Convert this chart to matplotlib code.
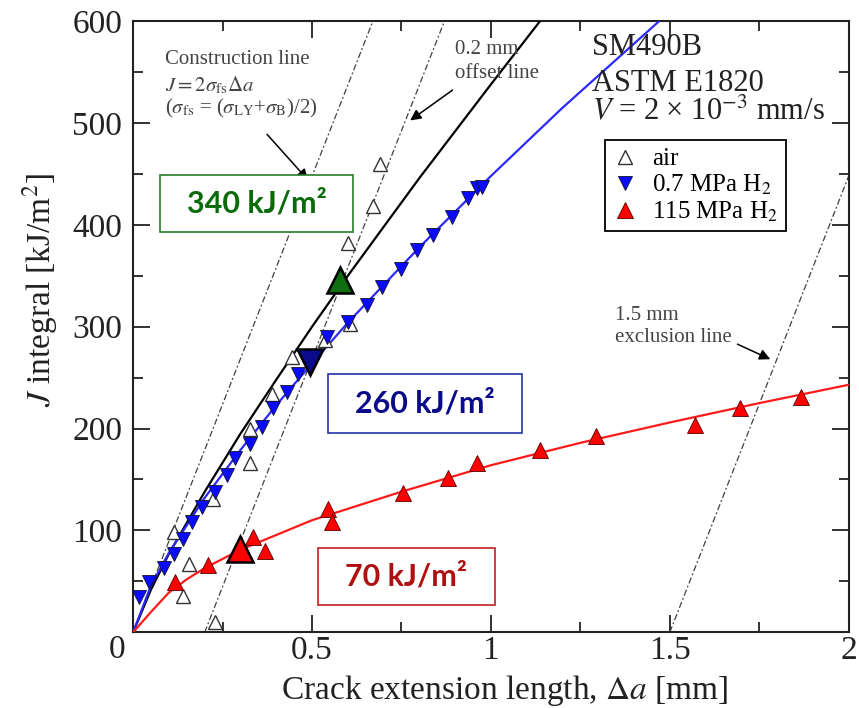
import matplotlib
matplotlib.use('Agg')

import matplotlib.pyplot as plt
from matplotlib.patches import Rectangle
from matplotlib.ticker import MultipleLocator

plt.rcParams['font.family'] = 'Liberation Serif'
plt.rcParams['mathtext.fontset'] = 'stix'

# Dados (Δa em mm, J em kJ/m²)
air_da = [0.113, 0.155, 0.14, 0.229, 0.224, 0.327, 0.327, 0.387, 0.443,
          0.536, 0.606, 0.601, 0.671, 0.69]
air_j = [98, 67, 36, 10, 131, 166, 200, 234, 270, 287, 303, 382, 419, 460]

h2_07_da = [0.015, 0.043, 0.085, 0.113, 0.14, 0.164, 0.192, 0.229, 0.262,
            0.285, 0.327, 0.359, 0.392, 0.429, 0.462, 0.541, 0.601, 0.653,
            0.695, 0.75, 0.792, 0.839, 0.89, 0.937, 0.96, 0.974]
h2_07_j = [35, 49, 63, 77, 92, 108, 123, 138, 154, 171, 185, 202, 220, 236,
           254, 290, 305, 321, 339, 357, 375, 390, 408, 426, 436, 437]

h2_115_da = [0.117, 0.21, 0.336, 0.369, 0.546, 0.555, 0.755, 0.881, 0.96,
             1.137, 1.295, 1.57, 1.696, 1.868]
h2_115_j = [49, 66, 94, 80, 121, 108, 137, 151, 166, 179, 193, 204, 220, 231]

# Curvas de ajuste (pontos lidos ao longo das curvas)
fit_air_da = [0, 0.05, 0.1, 0.2, 0.3, 0.4, 0.5, 0.6, 0.8, 1.0, 1.137]
fit_air_j = [0, 42, 77, 138, 195, 248, 300, 350, 446, 538, 600]
fit_07_da = [0, 0.05, 0.1, 0.2, 0.3, 0.4, 0.5, 0.6, 0.8, 1.0, 1.2, 1.47]
fit_07_j = [0, 46, 78, 132, 179, 223, 264, 304, 378, 448, 515, 600]
fit_115_da = [0, 0.05, 0.1, 0.15, 0.2, 0.3, 0.5, 0.75, 1.0, 1.25, 1.5, 1.75, 2.0]
fit_115_j = [0, 20, 39, 52, 63, 81, 110, 138, 164, 186, 206, 225, 243]

# Linhas de construção
constr_da, constr_j = [0, 0.67], [0, 600]
offset_da, offset_j = [0.2, 0.87], [0, 600]
excl_da, excl_j = [1.5, 2.0], [0, 448]

# Valores J_Q destacados
jq_labels = ['340 kJ/m²', '260 kJ/m²', '70 kJ/m²']
jq_da = [0.578, 0.494, 0.3]
jq_j = [346, 265, 82]

fig = plt.figure(figsize=(8.59, 7.08), dpi=100)
ax = fig.add_axes([0.155, 0.107, 0.833, 0.863])

dash = (0, (5, 2, 1.5, 2))
for xs, ys in [(constr_da, constr_j), (offset_da, offset_j), (excl_da, excl_j)]:
    ax.plot(xs, ys, color='0.25', lw=0.9, linestyle=dash, zorder=2)

ax.plot(fit_air_da, fit_air_j, color='black', lw=1.6, zorder=3)
ax.plot(fit_07_da, fit_07_j, color='#2a2aff', lw=1.6, zorder=3)
ax.plot(fit_115_da, fit_115_j, color='#ff1a1a', lw=1.6, zorder=3)

ax.plot(air_da, air_j, '^', ms=10.5, mfc='white', mec='#333333', mew=1.0,
        ls='none', zorder=4, label='air')
ax.plot(h2_07_da, h2_07_j, 'v', ms=10, mfc='#0a0aff', mec='#111133', mew=0.6,
        ls='none', zorder=5, label='0.7 MPa H$_2$')
ax.plot(h2_115_da, h2_115_j, '^', ms=11, mfc='#ff0000', mec='#550000', mew=0.6,
        ls='none', zorder=5, label='115 MPa H$_2$')

# Marcadores grandes nos pontos J_Q
ax.plot(jq_da[0], jq_j[0], '^', ms=19, mfc='#0f6e0f', mec='black', mew=1.8, zorder=6)
ax.plot(jq_da[1], jq_j[1], 'v', ms=19, mfc='#0a0a8c', mec='black', mew=1.8, zorder=6)
ax.plot(jq_da[2], jq_j[2], '^', ms=19, mfc='#ff0000', mec='black', mew=1.8, zorder=6)

ax.set_xlim(0, 2)
ax.set_ylim(0, 600)
ax.xaxis.set_major_locator(MultipleLocator(0.5))
ax.xaxis.set_minor_locator(MultipleLocator(0.25))
ax.yaxis.set_major_locator(MultipleLocator(100))
ax.yaxis.set_minor_locator(MultipleLocator(50))
ax.tick_params(which='both', direction='in', top=True, right=True, width=1.3,
               colors='#222222', labelsize=24)
ax.tick_params(which='major', length=12)
ax.tick_params(which='minor', length=7)
ax.tick_params(axis='x', pad=2)
ax.tick_params(axis='y', pad=8)
ax.set_xticks([0.5, 1, 1.5, 2])
ax.set_xticklabels(['0.5', '1', '1.5', '2'])
ax.set_yticks([100, 200, 300, 400, 500, 600])
for s in ax.spines.values():
    s.set_linewidth(1.5)
    s.set_color('#222222')

fig.text(117 / 859, 1 - 650 / 708, '0', fontsize=24, ha='center', va='center', color='#222222')
fig.text(505 / 859, 1 - 690 / 708, r'Crack extension length, $\Delta a$ [mm]',
         fontsize=24, ha='center', va='center', color='#222222')
fig.text(40 / 859, 1 - 290 / 708, r'$J$ integral [kJ/m$^2$]', fontsize=24,
         ha='center', va='center', rotation=90, color='#222222')

# Anotações
gray = '#444444'
ax.text(0.089, 562, 'Construction line', fontsize=15, color=gray, va='center')
ax.text(0.089, 537, r'$J = 2\sigma_{\rm fs}\Delta a$', fontsize=15, color=gray, va='center')
ax.text(0.089, 514, r'($\sigma_{\rm fs}$ = ($\sigma_{\rm LY}$+$\sigma_{\rm B}$)/2)',
        fontsize=15, color=gray, va='center')
ax.text(0.899, 572, '0.2 mm', fontsize=15, color=gray, va='center')
ax.text(0.899, 549, 'offset line', fontsize=15, color=gray, va='center')
ax.text(1.346, 311, '1.5 mm', fontsize=15, color=gray, va='center')
ax.text(1.346, 289, 'exclusion line', fontsize=15, color=gray, va='center')

arrow = dict(arrowstyle='-|>', color='black', lw=1.1, mutation_scale=16)
ax.annotate('', xy=(0.494, 442), xytext=(0.369, 491), arrowprops=arrow)
ax.annotate('', xy=(0.768, 501), xytext=(0.899, 534), arrowprops=arrow)
ax.annotate('', xy=(1.788, 267), xytext=(1.682, 284), arrowprops=arrow)

ax.text(1.282, 574, 'SM490B', fontsize=22, color='#222222', va='center')
ax.text(1.282, 539, 'ASTM E1820', fontsize=22, color='#222222', va='center')
ax.text(1.282, 511, r'$V$ = 2 × 10$^{-3}$ mm/s', fontsize=22, color='#222222', va='center')

leg = ax.legend(loc='upper left', bbox_to_anchor=(0.659, 0.805), fontsize=18,
                frameon=True, fancybox=False, edgecolor='black', framealpha=1,
                handlelength=1.0, handletextpad=0.6, borderpad=0.3,
                labelspacing=0.1, borderaxespad=0)
leg.get_frame().set_linewidth(1.3)

# Caixas com os valores J_Q
caixas = [((0.075, 393), 0.54, 56, '#0b6b0b', '#2b7a2b', (0.345, 421)),
          ((0.545, 195.5), 0.542, 58.5, '#0a0a8a', '#2233aa', (0.816, 225)),
          ((0.517, 26.5), 0.494, 56, '#b01010', '#c02020', (0.764, 54.5))]
for label, (xy, w, h, tc, ec, c) in zip(jq_labels, caixas):
    ax.add_patch(Rectangle(xy, w, h, fill=True, facecolor='white', edgecolor=ec,
                           lw=1.2, zorder=7))
    ax.text(c[0], c[1], label, fontsize=22, fontweight='bold', family='Lato',
            color=tc, ha='center', va='center', zorder=8)

fig.savefig('out.png', dpi=100)
